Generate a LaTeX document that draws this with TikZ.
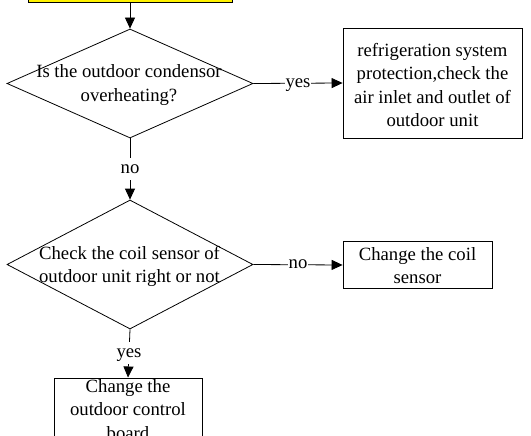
\documentclass[tikz,border=0pt]{standalone}
\usepackage{fontspec}
\setmainfont{Liberation Serif}
\usetikzlibrary{shapes.geometric,arrows.meta}
\begin{document}
\begin{tikzpicture}[x=1pt,y=-1pt,
  txt/.style={font=\fontsize{18.7}{23.3}\selectfont, align=center, inner sep=0pt},
  box/.style={draw, line width=0.8pt, inner sep=0pt},
  dec/.style={draw, diamond, minimum width=246pt, inner sep=0pt, line width=0.8pt},
  lbl/.style={font=\fontsize{18.7}{23}\selectfont, fill=white, inner xsep=0.5pt, inner ysep=2pt, text height=13pt, text depth=5pt},
  arr/.style={-{Triangle[length=11pt,width=10pt]}, line width=0.8pt}]
\useasboundingbox (0,0) rectangle (531,436);
\node[box, fill=yellow, minimum width=204pt, minimum height=40pt] (start) at (130,-18) {};
\node[dec, minimum height=109pt] (d1) at (130,83.5) {};
\node[txt] (d1t) at (129,85) {Is the outdoor condensor\\overheating?};
\node[box, minimum width=179pt, minimum height=110pt] (b1) at (432.5,83) {};
\node[txt] (b1t) at (432.5,85) {refrigeration system\\protection,check the\\air inlet and outlet of\\outdoor unit};
\node[dec, minimum height=129pt] (d2) at (130,264.5) {};
\node[txt] (d2t) at (129.5,266.5) {Check the coil sensor of\\outdoor unit right or not};
\node[box, minimum width=149pt, minimum height=47pt] (b2) at (417.5,265) {};
\node[txt] (b2t) at (417.5,265.5) {Change the coil\\sensor};
\node[box, anchor=north, minimum width=148pt, minimum height=80pt] (b3) at (128,377.5) {};
\node[txt] (b3t) at (128,409.5) {Change the\\outdoor control\\board};
\draw[arr] (start.south) -- (d1.north);
\draw[arr] (d1.east) -- node[lbl] (l1) {yes} (b1.west);
\draw[arr] (d1.south) -- node[lbl] (l2) {no} (d2.north);
\draw[arr] (d2.east) -- node[lbl] (l3) {no} (b2.west);
\draw[arr] (d2.south) -- node[lbl] (l4) {yes} (b3.north);
\end{tikzpicture}
\end{document}
